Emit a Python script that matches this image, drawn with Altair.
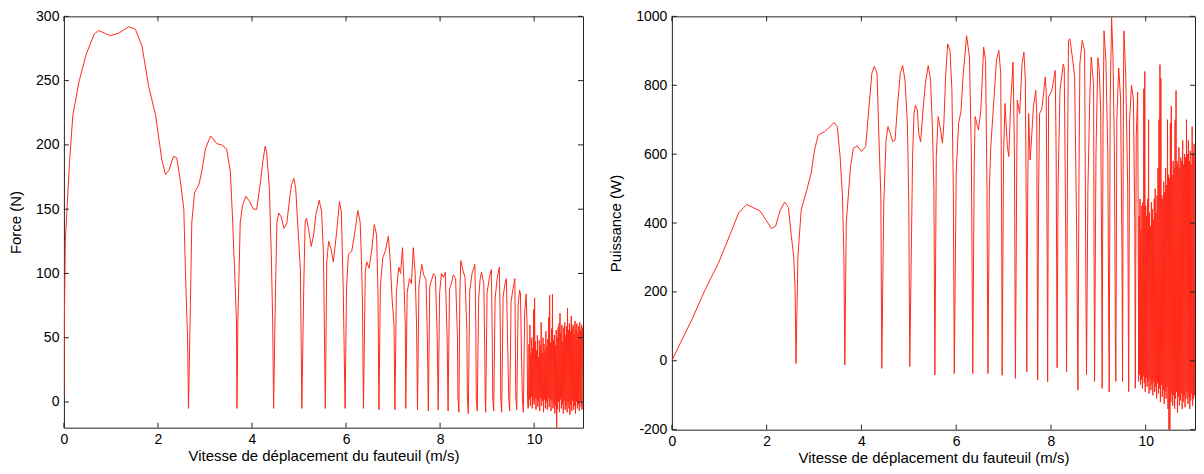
import altair as alt
import pandas as pd

# ---------------- data ----------------
force_x = [0, 0.01, 0.03, 0.07, 0.12, 0.19, 0.32, 0.47, 0.64, 0.74, 0.86, 0.99, 1.17, 1.38, 1.52, 1.66,
           1.80, 1.95, 2.08, 2.16, 2.23, 2.33, 2.40, 2.48, 2.55, 2.59, 2.63, 2.65, 2.69, 2.72, 2.78, 2.87,
           2.93, 3.01, 3.12, 3.25, 3.35, 3.46, 3.54, 3.59, 3.63, 3.67, 3.68, 3.70, 3.75, 3.80, 3.87, 3.95,
           4.03, 4.10, 4.18, 4.23, 4.28, 4.31, 4.37, 4.41, 4.44, 4.46, 4.50, 4.53, 4.57, 4.62, 4.68, 4.74,
           4.80, 4.84, 4.89, 4.93, 4.97, 5.03, 5.06, 5.10, 5.13, 5.16, 5.20, 5.26, 5.31, 5.36, 5.43, 5.48,
           5.52, 5.56, 5.59, 5.63, 5.68, 5.73, 5.80, 5.86, 5.90, 5.94, 5.98, 6.01, 6.05, 6.12, 6.20, 6.25,
           6.30, 6.33, 6.35, 6.37, 6.41, 6.44, 6.49, 6.55, 6.60, 6.65, 6.68, 6.70,
           6.73, 6.78, 6.84, 6.90, 6.94, 6.98, 7.02, 7.04, 7.07, 7.12, 7.16, 7.20, 7.23, 7.26, 7.27, 7.30,
           7.35, 7.39, 7.43, 7.47, 7.50, 7.52, 7.55, 7.58, 7.61, 7.65, 7.70, 7.73, 7.75, 7.78, 7.82, 7.86,
           7.90, 7.94, 7.96, 7.99, 8.03, 8.07, 8.11, 8.15, 8.17, 8.20, 8.24, 8.28, 8.33, 8.37, 8.38, 8.40,
           8.42, 8.44, 8.49, 8.53, 8.57, 8.58, 8.60, 8.63, 8.68, 8.74, 8.76, 8.77, 8.79, 8.82, 8.85, 8.88,
           8.93, 8.95, 8.96, 8.97, 9.00, 9.05, 9.09, 9.11, 9.12, 9.14, 9.17, 9.21, 9.26, 9.28, 9.29, 9.31,
           9.34, 9.38, 9.41, 9.44, 9.46, 9.48, 9.51, 9.55, 9.59, 9.60, 9.61, 9.63, 9.66, 9.69, 9.71, 9.73,
           9.75, 9.77, 9.80, 9.83, 9.85, 9.86, 9.87]
force_y = [5, 65, 125, 153, 187, 223, 249, 270, 286, 289, 287, 285, 287, 292, 290, 277,
           246, 223, 189, 177, 180, 191, 190, 171, 150, 94, 50, -5, 76, 140, 163, 169,
           179, 197, 207, 201, 200, 197, 179, 140, 102, 63, -5, 63, 140, 153, 160, 156,
           150, 150, 171, 187, 199, 195, 166, 115, 63, -5, 88, 140, 147, 144, 135, 139,
           158, 169, 174, 166, 140, 102, -5, 88, 140, 143, 135, 121, 130, 146, 157, 148,
           115, -5, 109, 125, 119, 109, 132, 156, 148, 88, -5, 88, 115, 117, 135, 149,
           140, 109, 76, -5, 102, 109, 104, 119, 138, 130, 84, -6,
           90, 112, 118, 129, 110, 80, 60, -6, 85, 105, 100, 120, 95, 60, -5, 85,
           96, 92, 120, 100, 60, -6, 90, 99, 107, 99, 95, 50, -7, 90, 95, 100,
           98, 50, -6, 85, 100, 97, 101, 50, -7, 88, 92, 99, 96, 50, 3, -8,
           85, 110, 102, 97, 55, 4, -9, 86, 100, 107, 60, 3, -7, 80, 95, 101,
           92, 40, 3, -8, 85, 97, 103, 50, 3, -7, 80, 95, 105, 60, 4, -8,
           82, 92, 96, 40, 3, -7, 78, 88, 96, 50, 4, -6, 75, 87, 84, 40,
           3, -8, 70, 84, 60, 2, -5]

force_dense_x = [9.88, 9.89, 9.90, 9.91, 9.92, 9.93, 9.94, 9.95, 9.96, 9.97, 9.98, 9.99,
                 10.00, 10.01, 10.02, 10.03, 10.04, 10.05, 10.06, 10.07, 10.08, 10.09, 10.10, 10.11,
                 10.12, 10.13, 10.14, 10.15, 10.16, 10.17, 10.18, 10.19, 10.20, 10.21, 10.22, 10.23,
                 10.24, 10.25, 10.26, 10.27, 10.28, 10.29, 10.30, 10.31, 10.32, 10.33, 10.34, 10.35,
                 10.36, 10.37, 10.38, 10.39, 10.40, 10.41, 10.42, 10.43, 10.44, 10.45, 10.46, 10.47,
                 10.48, 10.49, 10.50, 10.51, 10.52, 10.53, 10.54, 10.55, 10.56, 10.57, 10.58, 10.59,
                 10.60, 10.61, 10.62, 10.63, 10.64, 10.65, 10.66, 10.67, 10.68, 10.69, 10.70, 10.71,
                 10.72, 10.73, 10.74, 10.75, 10.76, 10.77, 10.78, 10.79, 10.80, 10.81, 10.82, 10.83,
                 10.84, 10.85, 10.86, 10.87, 10.88, 10.89, 10.90, 10.91, 10.92, 10.93, 10.94, 10.95,
                 10.96, 10.97, 10.98, 10.99, 11.00, 11.01, 11.02, 11.03]
force_dense_y = [-4, 45, 2, 60, -3, 38, 4, 50, -5, 42, 1, 72,
                 -2, 81, 3, 47, -6, 40, 2, 52, -4, 35, 0, 48,
                 -7, 44, 3, 62, -3, 38, 1, 50, -8, 45, 2, 40,
                 -5, 55, 0, 43, -6, 49, 3, 66, -4, 83, 1, 46,
                 -7, 57, 2, 84, -5, 48, -1, 52, -9, 44, -3, 56,
                 -24, 50, -6, 58, 0, 61, -8, 69, 2, 54, -5, 60,
                 -2, 47, -9, 58, 1, 62, -6, 52, -3, 59, -8, 73,
                 0, 56, -5, 61, -10, 55, -2, 67, -7, 58, 1, 60,
                 -6, 53, -3, 63, -9, 57, 0, 61, -5, 54, -2, 59,
                 -7, 62, 1, 56, -4, 60, -6, 58]

power_x = [0, 0.12, 0.43, 0.71, 0.99, 1.23, 1.41, 1.58, 1.86, 2.00, 2.10, 2.19, 2.28, 2.38, 2.46, 2.52,
           2.57, 2.60, 2.62, 2.66, 2.73, 2.83, 2.94, 3.01, 3.09, 3.22, 3.34, 3.42, 3.49, 3.55, 3.60, 3.63,
           3.65, 3.68, 3.77, 3.83, 3.91, 4.00, 4.09, 4.16, 4.22, 4.27, 4.33, 4.36, 4.41, 4.43, 4.47, 4.52,
           4.56, 4.61, 4.66, 4.71, 4.76, 4.82, 4.87, 4.92, 4.97, 5.00, 5.02, 5.08, 5.11, 5.14, 5.18, 5.21,
           5.25, 5.30, 5.35, 5.41, 5.46, 5.50, 5.53, 5.55, 5.58, 5.62, 5.66, 5.71, 5.74, 5.78, 5.82, 5.87,
           5.91, 5.94, 5.96, 6.00, 6.05, 6.10, 6.15, 6.22, 6.28, 6.32, 6.35, 6.38, 6.40, 6.47, 6.52, 6.58,
           6.62, 6.65, 6.67, 6.70, 6.73, 6.80, 6.85, 6.90, 6.94, 6.96, 6.97, 7.00, 7.03, 7.08, 7.11, 7.15,
           7.20, 7.23, 7.25, 7.28, 7.29, 7.34, 7.39, 7.43, 7.46, 7.48, 7.49, 7.51, 7.53, 7.56, 7.58, 7.63,
           7.68, 7.70, 7.71, 7.72, 7.74, 7.76, 7.81, 7.88, 7.90, 7.92, 7.93, 7.95, 8.02, 8.09, 8.11, 8.13,
           8.15, 8.19, 8.26, 8.28, 8.31, 8.33, 8.35, 8.37, 8.40, 8.46, 8.50, 8.54, 8.57, 8.59, 8.61, 8.66,
           8.71, 8.73, 8.75, 8.78, 8.82, 8.85, 8.90, 8.91, 8.92, 8.95, 8.99, 9.02, 9.05, 9.07, 9.08, 9.10,
           9.12, 9.16, 9.20, 9.22, 9.23, 9.25, 9.28, 9.31, 9.34, 9.36, 9.37, 9.39, 9.43, 9.47, 9.50, 9.51,
           9.53, 9.54, 9.58, 9.62, 9.64, 9.66, 9.70, 9.74, 9.77, 9.78, 9.80, 9.83, 9.84]
power_y = [0, 35, 122, 209, 286, 367, 430, 454, 435, 406, 384, 391, 435, 461, 445, 363,
           305, 209, -8, 305, 439, 487, 545, 612, 656, 665, 680, 692, 680, 593, 478, 305,
           -12, 401, 564, 617, 624, 608, 622, 737, 834, 855, 834, 689, 478, -22, 449, 641,
           680, 660, 636, 641, 737, 834, 857, 814, 689, 459, -17, 593, 718, 742, 728, 660,
           636, 728, 805, 857, 814, 670, 497, -41, 593, 709, 680, 632, 689, 834, 920, 901,
           785, 497, -37, 545, 689, 723, 834, 944, 882, 600, -37, 560, 709, 670, 728, 911,
           872, 500, -37, 500, 622, 766, 872, 901, 834, 400, -42, 600, 747, 622, 593, 747,
           867, 600, -51, 600, 757, 718, 862, 896, 814, 400, -32, 500, 718, 583, 622, 737,
           785, 718, 300, -56, 500, 718, 732, 824, 780, 300, -61, 766, 785, 843, 600, -20,
           500, 785, 862, 850, 400, -32, 600, 930, 935, 872, 824, 400, -85, 500, 862, 930,
           901, 400, -40, 500, 766, 882, 800, 300, -60, 600, 880, 843, 720, 300, -80, 700,
           958, 870, 600, 100, -90, 750, 997, 880, 600, 50, -60, 700, 850, 760, 300, -60,
           800, 958, 820, 500, -90, 700, 800, 760, 400, -80, 650, 780, 450]

power_dense_x = [9.85, 9.86, 9.87, 9.88, 9.89, 9.90, 9.91, 9.92, 9.93, 9.94, 9.95, 9.96,
                 9.97, 9.98, 9.99, 10.00, 10.01, 10.02, 10.03, 10.04, 10.05, 10.06, 10.07, 10.08,
                 10.09, 10.10, 10.11, 10.12, 10.13, 10.14, 10.15, 10.16, 10.17, 10.18, 10.19, 10.20,
                 10.21, 10.22, 10.23, 10.24, 10.25, 10.26, 10.27, 10.28, 10.29, 10.30, 10.31, 10.32,
                 10.33, 10.34, 10.35, 10.36, 10.37, 10.38, 10.39, 10.40, 10.41, 10.42, 10.43, 10.44,
                 10.45, 10.46, 10.47, 10.48, 10.49, 10.50, 10.51, 10.52, 10.53, 10.54, 10.55, 10.56,
                 10.57, 10.58, 10.59, 10.60, 10.61, 10.62, 10.63, 10.64, 10.65, 10.66, 10.67, 10.68,
                 10.69, 10.70, 10.71, 10.72, 10.73, 10.74, 10.75, 10.76, 10.77, 10.78, 10.79, 10.80,
                 10.81, 10.82, 10.83, 10.84, 10.85, 10.86, 10.87, 10.88, 10.89, 10.90, 10.91, 10.92,
                 10.93, 10.94, 10.95, 10.96, 10.97, 10.98, 10.99, 11.00, 11.01, 11.02, 11.03, 11.04]
power_dense_y = [-60, 420, -40, 470, -70, 380, -55, 450, -80, 460, -45, 790,
                 -65, 840, -90, 450, -50, 420, -75, 470, -60, 700, -95, 430,
                 -55, 390, -85, 460, -70, 440, -100, 410, -60, 470, -90, 500,
                 -75, 430, -110, 480, -65, 560, -95, 700, -80, 860, -120, 820,
                 -70, 480, -105, 470, -85, 520, -125, 490, -90, 560, -110, 510,
                 -75, 700, -140, 540, -215, 530, -205, 690, -120, 740, -95, 540,
                 -130, 580, -100, 560, -140, 700, -110, 785, -90, 580, -150, 570,
                 -105, 620, -130, 560, -115, 590, -95, 580, -140, 640, -120, 570,
                 -100, 600, -135, 590, -110, 700, -90, 600, -125, 640, -105, 580,
                 -140, 610, -115, 570, -95, 680, -130, 600, -110, 630, -100, 590]

x_ticks = [0, 2, 4, 6, 8, 10]
force_ticks = [0, 50, 100, 150, 200, 250, 300]
power_ticks = [-200, 0, 200, 400, 600, 800, 1000]

RED = "#ff2a1a"
FONT = "Liberation Sans"
X_TITLE = "Vitesse de déplacement du fauteuil (m/s)"


def panel(xs, ys, yticks, ydomain, ytitle, w, h):
    df = pd.DataFrame({"v": xs, "f": ys})
    df["i"] = range(len(df))
    xscale = alt.Scale(domain=[0, 11.04], nice=False, zero=False)
    yscale = alt.Scale(domain=ydomain, nice=False, zero=False)
    common = dict(grid=False, ticks=False, domain=False, labelFont=FONT, labelFontSize=14,
                  labelColor="#000", labelPadding=5, labelFlush=False, labelOverlap=False,
                  labelExpr="datum.value + ''",
                  titleFont=FONT, titleFontSize=15, titleFontWeight="normal", titleColor="#000")
    line = alt.Chart(df).mark_line(color=RED, strokeWidth=1, clip=True).encode(
        x=alt.X("v:Q", scale=xscale,
                axis=alt.Axis(values=x_ticks, title=X_TITLE, titlePadding=2, **common)),
        y=alt.Y("f:Q", scale=yscale,
                axis=alt.Axis(values=yticks, title=ytitle, titlePadding=12, **common)),
        order="i:Q",
    )
    xt = pd.DataFrame({"t": x_ticks})
    yt = pd.DataFrame({"t": yticks})
    tk = dict(color="#222", strokeWidth=1)
    top = alt.Chart(xt).mark_rule(**tk).encode(
        x=alt.X("t:Q"), y=alt.value(0), y2=alt.value(5))
    bot = alt.Chart(xt).mark_rule(**tk).encode(
        x=alt.X("t:Q"), y=alt.value(h - 5), y2=alt.value(h))
    lef = alt.Chart(yt).mark_rule(**tk).encode(
        y=alt.Y("t:Q"), x=alt.value(0), x2=alt.value(5))
    rig = alt.Chart(yt).mark_rule(**tk).encode(
        y=alt.Y("t:Q"), x=alt.value(w - 5), x2=alt.value(w))
    return alt.layer(line, top, bot, lef, rig).properties(width=w, height=h)


left = panel(force_x + force_dense_x, force_y + force_dense_y, force_ticks, [-20, 300],
             "Force (N)", 520, 412)
right = panel(power_x + power_dense_x, power_y + power_dense_y, power_ticks, [-200, 1000],
              "Puissance (W)", 524, 414)

chart = alt.hconcat(left, right, spacing=24).properties(
    padding={"left": 0, "top": 0, "right": 0, "bottom": 0},
    background="white",
).configure_view(stroke="#222", strokeWidth=1)

chart.save("out.html", embed_options={"renderer": "svg", "actions": False})
